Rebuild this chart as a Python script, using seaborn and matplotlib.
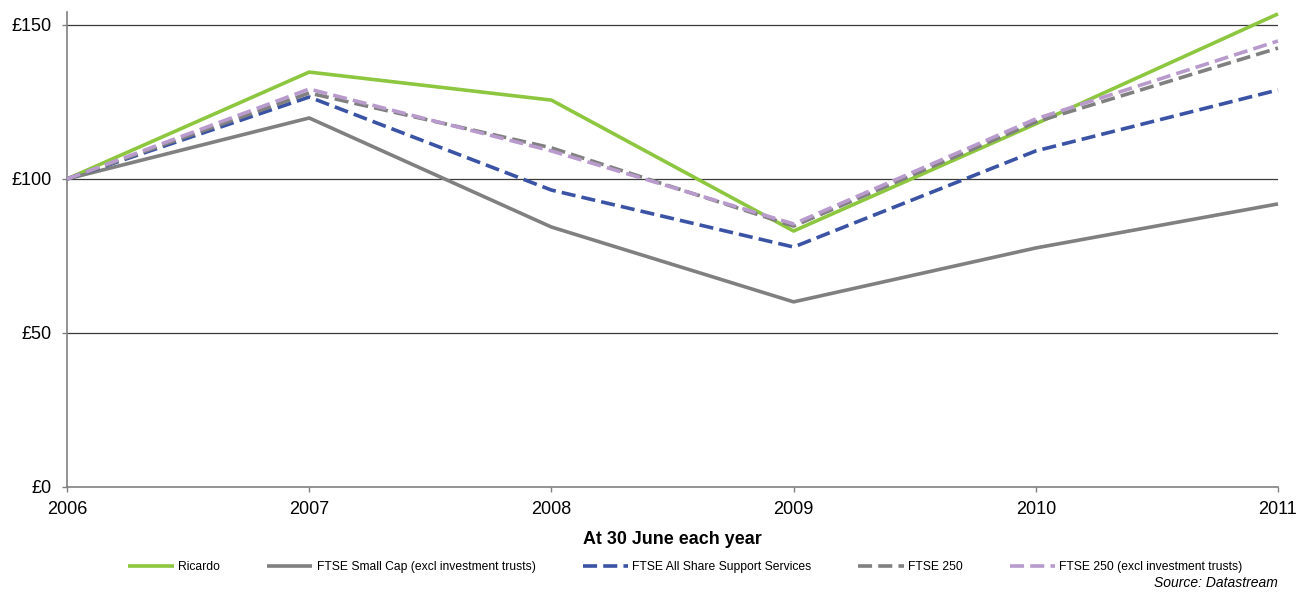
import matplotlib
matplotlib.use("Agg")
import matplotlib.pyplot as plt
import seaborn as sns
import pandas as pd

years = [2006, 2007, 2008, 2009, 2010, 2011]
ricardo = [100, 134.7, 125.6, 83.1, 117.9, 153.6]
small_cap = [100, 119.8, 84.4, 60.1, 77.6, 91.9]
support_services = [100, 126.6, 96.4, 77.9, 109.1, 128.9]
ftse250 = [100, 127.9, 110.1, 84.7, 118.5, 142.5]
ftse250_excl = [100, 129.2, 109.1, 85.4, 119.5, 144.8]

series_names = [
    "Ricardo",
    "FTSE Small Cap (excl investment trusts)",
    "FTSE All Share Support Services",
    "FTSE 250",
    "FTSE 250 (excl investment trusts)",
]
series_values = [ricardo, small_cap, support_services, ftse250, ftse250_excl]
colors = ["#8DC63F", "#808080", "#3A53A4", "#808080", "#B89BCC"]
styles = ["-", "-", (0, (3.9, 1.7)), (0, (3.9, 1.7)), (0, (3.9, 1.7))]

y_ticks = [0, 50, 100, 150]

sns.set_theme(style="white")
plt.rcParams["font.family"] = ["Liberation Sans", "DejaVu Sans"]
plt.rcParams["text.color"] = "black"
plt.rcParams["axes.labelcolor"] = "black"
plt.rcParams["xtick.labelcolor"] = "black"
plt.rcParams["ytick.labelcolor"] = "black"

fig = plt.figure(figsize=(12.96, 5.92), dpi=100)
ax = fig.add_axes([0.0517, 0.1774, 0.9344, 0.8023])

ax.set_ylim(0, 154.2)
ax.set_xlim(2006, 2011)
for yv in [50, 100, 150]:
    ax.axhline(yv, color="#3a3a3a", lw=0.9, zorder=1)

for name, vals, c, ls in zip(series_names, series_values, colors, styles):
    df = pd.DataFrame({"year": years, "value": vals})
    sns.lineplot(data=df, x="year", y="value", ax=ax, color=c, lw=2.6,
                 linestyle=ls, label=name, legend=False, zorder=3,
                 solid_capstyle="butt", dash_capstyle="butt", clip_on=False)

ax.set_yticks(y_ticks)
ax.set_yticklabels([f"£{v}" for v in y_ticks], fontsize=13)
ax.set_xticks(years)
ax.set_xticklabels([str(y) for y in years], fontsize=13)
ax.tick_params(axis="y", which="both", direction="out", length=3.6,
               width=1, color="#808080", left=True, pad=7.5, labelcolor="black")
ax.tick_params(axis="x", which="both", direction="out", length=3.6,
               width=1, color="#808080", bottom=True, pad=6.5, labelcolor="black")
ax.set_xlabel("At 30 June each year", fontsize=12.9, fontweight="bold",
              labelpad=9, color="black")
ax.set_ylabel("")

for s in ["top", "right"]:
    ax.spines[s].set_visible(False)
for s in ["left", "bottom"]:
    ax.spines[s].set_color("#808080")
    ax.spines[s].set_linewidth(1.2)

handles, labels = ax.get_legend_handles_labels()
leg = fig.legend(handles, labels, loc="center", bbox_to_anchor=(0.529, 0.042), ncol=5,
                 frameon=False, fontsize=8.7, handlelength=3.75, handletextpad=0.35,
                 columnspacing=3.9)
for t in leg.get_texts():
    t.set_color("black")

fig.text(0.986, 1 - 583 / 592, "Source: Datastream", ha="right", va="center",
         fontsize=10, style="italic", color="black")

fig.savefig("out.png", dpi=100)
